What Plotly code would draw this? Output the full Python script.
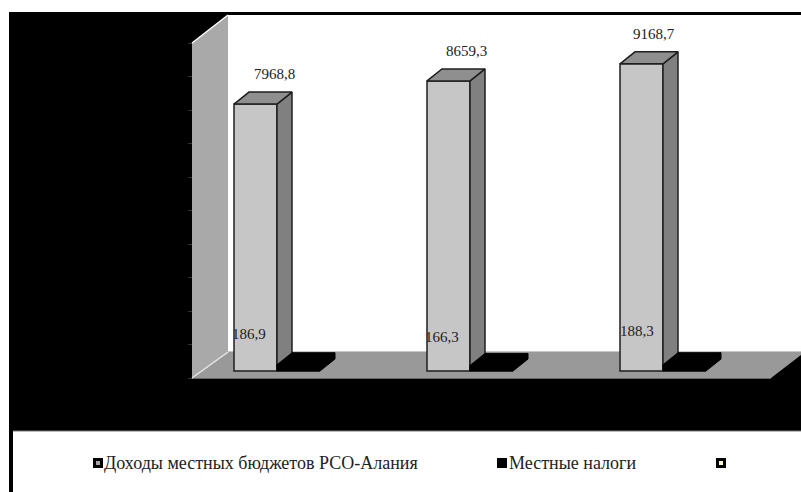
import plotly.graph_objects as go

# ---- data ----
categories = [0, 1, 2]
income = [7968.8, 8659.3, 9168.7]
taxes = [186.9, 166.3, 188.3]
income_labels = ["7968,8", "8659,3", "9168,7"]
tax_labels = ["186,9", "166,3", "188,3"]
legend_names = ["Доходы местных бюджетов РСО-Алания", "Местные налоги", ""]

# ---- page / scale settings ----
W, H = 801, 492
X0_PX, X_STEP = 277.0, 193.0      # pixel of category 0 centre, pixels per category
Y0_PX, Y_SCALE = 371.0, 0.0335    # pixel of value 0, pixels per unit
BAR_PX = 43.0
DX_PX, DY_PX = 15.0, 12.0

FONT = "Liberation Serif"
OUT = "#1f1f1f"
FRONT, TOP, SIDE = "#c6c6c6", "#8f8f8f", "#808080"

xr = [(0 - X0_PX) / X_STEP, (W - X0_PX) / X_STEP]
yr = [(Y0_PX - H) / Y_SCALE, Y0_PX / Y_SCALE]
bw = BAR_PX / X_STEP
dx = DX_PX / X_STEP
dy = DY_PX / Y_SCALE


def px(x):
    return x / W


def py(y):
    return 1 - y / H


def poly(points, fill, line=None, width=0):
    path = "M " + " L ".join(f"{px(a):.5f},{py(b):.5f}" for a, b in points) + " Z"
    return dict(type="path", xref="paper", yref="paper", path=path, fillcolor=fill,
                line=dict(color=line or fill, width=width), layer="below")


shapes = [
    # black frame
    poly([(9, 12), (W, 12), (W, 431), (9, 431)], "#000000"),
    poly([(9, 431), (13, 431), (13, H), (9, H)], "#000000"),
    dict(type="line", xref="paper", yref="paper", x0=px(13), x1=px(W), y0=py(431), y1=py(431),
         line=dict(color="#777777", width=1), layer="below"),
    # back wall, side wall, floor
    poly([(228, 15), (W, 15), (W, 352), (228, 352)], "#ffffff"),
    poly([(192, 43), (228, 15), (228, 352), (192, 378)], "#a9a9a9"),
    poly([(228, 352), (W, 352), (W, 355), (771, 378), (192, 378)], "#999999"),
    dict(type="line", xref="paper", yref="paper", x0=px(228), x1=px(W), y0=py(351.5), y1=py(351.5),
         line=dict(color="#c8c8c8", width=1), layer="below"),
    dict(type="line", xref="paper", yref="paper", x0=px(192), x1=px(771), y0=py(378.5), y1=py(378.5),
         line=dict(color="#666666", width=1), layer="below"),
    dict(type="line", xref="paper", yref="paper", x0=px(192), x1=px(228), y0=py(43), y1=py(15),
         line=dict(color="#ffffff", width=1.5), layer="below"),
    dict(type="line", xref="paper", yref="paper", x0=px(192), x1=px(228), y0=py(378), y1=py(352),
         line=dict(color="#e8e8e8", width=1.5), layer="below"),
]

fig = go.Figure()
fig.add_bar(x=categories, y=income, width=bw, offset=-bw, marker=dict(color=FRONT, line=dict(color=OUT, width=1.5)),
            name=legend_names[0], showlegend=False, hoverinfo="skip")
fig.add_bar(x=categories, y=taxes, width=bw, offset=0, marker=dict(color="#000000", line=dict(color="#000000", width=1)),
            name=legend_names[1], showlegend=False, hoverinfo="skip")


def face(xs, ys, fill, line, width):
    fig.add_scatter(x=xs, y=ys, mode="lines", fill="toself", fillcolor=fill,
                    line=dict(color=line, width=width), showlegend=False, hoverinfo="skip")


for c, v in zip(categories, income):
    l, r = c - bw, c
    face([r, r + dx, r + dx, r, r], [0, dy, v + dy, v, 0], SIDE, OUT, 1.5)
    face([l, l + dx, r + dx, r, l], [v, v + dy, v + dy, v, v], TOP, OUT, 1.5)

for c, v in zip(categories, taxes):
    l, r = c, c + bw
    face([l, r, r, l, l], [0, 0, v, v, 0], "#000000", "#000000", 1)
    face([r, r + dx, r + dx, r, r], [0, dy, v + dy, v, 0], "#000000", "#000000", 1)
    face([l, l + dx, r + dx, r, l], [v, v + dy, v + dy, v, v], "#000000", "#000000", 1)

annotations = []
income_dx, income_dy = [-3, -4, -9], [30, 30, 30]
tax_dx, tax_dy = [-28, -28, -26], [31, 28, 34]
for c, v, t, sx, sy in zip(categories, income, income_labels, income_dx, income_dy):
    annotations.append(dict(x=c, y=v, text=t, showarrow=False, xshift=sx, yshift=sy,
                            font=dict(family=FONT, size=15, color="#222222")))
for c, v, t, sx, sy in zip(categories, taxes, tax_labels, tax_dx, tax_dy):
    annotations.append(dict(x=c, y=v, text=t, showarrow=False, xshift=sx, yshift=sy,
                            font=dict(family=FONT, size=15, color="#222222")))

# hand placed legend row
legend_x = [104, 509]
for name, lx in zip(legend_names[:2], legend_x):
    annotations.append(dict(xref="paper", yref="paper", x=px(lx), y=py(463), text=name, showarrow=False,
                            xanchor="left", yanchor="middle", xshift=-2,
                            font=dict(family=FONT, size=18, color="#222222")))
for x0, fill in [(93, "#a6a6a6"), (497, "#000000"), (716, "#ffffcc")]:
    shapes.append(dict(type="rect", xref="paper", yref="paper", x0=px(x0 + 1.5), x1=px(x0 + 8.5),
                       y0=py(466.5), y1=py(459.5), fillcolor=fill,
                       line=dict(color="#000000", width=3), layer="above"))

ticks = [t * 1000 - 7 / Y_SCALE for t in range(0, 11)]
fig.update_layout(
    width=W, height=H, margin=dict(l=0, r=0, t=0, b=0), autosize=False,
    paper_bgcolor="#ffffff", plot_bgcolor="rgba(0,0,0,0)", barmode="overlay",
    shapes=shapes, annotations=annotations, showlegend=False,
    xaxis=dict(range=xr, domain=[0, 1], visible=False, fixedrange=True),
    yaxis=dict(range=yr, domain=[0, 1], anchor="free", position=px(192), side="left",
               showgrid=False, zeroline=False, showline=False, ticks="outside", ticklen=4,
               tickcolor="#333333", tickwidth=1, tickmode="array", tickvals=ticks,
               showticklabels=False, fixedrange=True),
)
fig.write_html("out.html", config={"displayModeBar": False},
               post_script="document.body.style.margin='0';document.documentElement.style.overflow='hidden';")
